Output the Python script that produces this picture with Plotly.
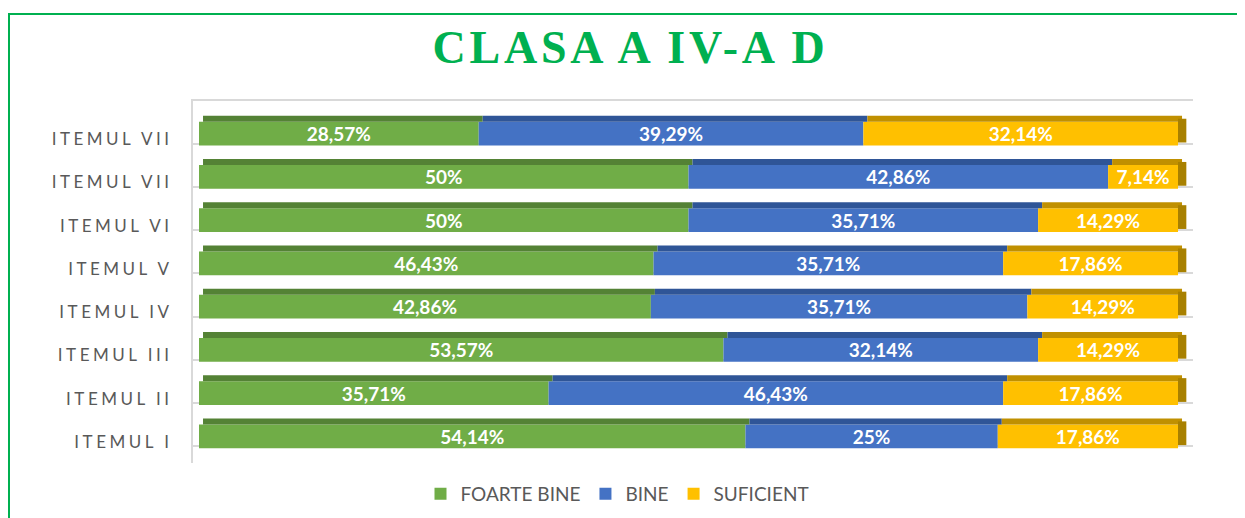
import plotly.graph_objects as go

# ---- data (bottom to top, as drawn) ----
categories = ["ITEMUL I", "ITEMUL II", "ITEMUL III", "ITEMUL IV",
              "ITEMUL V", "ITEMUL VI", "ITEMUL VII", "ITEMUL VII"]
series_names = ["FOARTE BINE", "BINE", "SUFICIENT"]
foarte_bine = [54.14, 35.71, 53.57, 42.86, 46.43, 50, 50, 28.57]
bine = [25, 46.43, 32.14, 35.71, 35.71, 35.71, 42.86, 39.29]
suficient = [17.86, 17.86, 14.29, 14.29, 17.86, 14.29, 7.14, 32.14]

series_values = [foarte_bine, bine, suficient]
front_colors = ["#70AD47", "#4472C4", "#FFC000"]
top_colors = ["#548235", "#2F5597", "#C09000"]
side_color = "#A88000"

ypos = list(range(len(categories)))
totals = [sum(v[i] for v in series_values) for i in ypos]
pcts = [[v[i] / totals[i] * 100 for i in ypos] for v in series_values]
bases = []
run = [0.0] * len(ypos)
for p in pcts:
    bases.append(run[:])
    run = [run[i] + p[i] for i in ypos]


def fmt(v):
    s = f"{v:.2f}".rstrip("0").rstrip(".")
    return s.replace(".", ",") + "%"


BAR_W = 0.55
TOP_W = 0.137
SHIFT = 0.41   # half of depth shift in x units
DEPTH = 0.85
LABEL_DROP = 0.13

W, H = 1245, 518
OFF = 8  # page body margin
PL, PR, PT, PB = 193 - OFF, 1193 - OFF, 101 - OFF, 467 - OFF

fig = go.Figure()

# front faces
for name, p, b, vals, col in zip(series_names, pcts, bases, series_values, front_colors):
    fig.add_trace(go.Bar(
        y=ypos, x=p, base=b, orientation="h", name=name,
        marker=dict(color=col, line=dict(width=0)),
        width=BAR_W, offset=-BAR_W / 2,
        text=[fmt(v) for v in vals], textposition="inside",
        insidetextanchor="middle", textangle=0, constraintext="none",
        textfont=dict(family="Lato", size=19, color="white", weight="bold"),
        hoverinfo="skip",
    ))

# top faces (3D effect)
for p, b, col in zip(pcts, bases, top_colors):
    fig.add_trace(go.Bar(
        y=ypos, x=p, base=[bb + SHIFT for bb in b], orientation="h",
        marker=dict(color=col, line=dict(width=0)),
        width=TOP_W, offset=BAR_W / 2, showlegend=False, hoverinfo="skip",
    ))

# right side face
fig.add_trace(go.Bar(
    y=ypos, x=[DEPTH] * len(ypos), base=run, orientation="h",
    marker=dict(color=side_color, line=dict(width=0)),
    width=BAR_W, offset=-BAR_W / 2 + 0.07, showlegend=False, hoverinfo="skip",
))

ticktext = [f'<span style="letter-spacing:3.5px">{c}</span>' for c in categories]

pw = PR - PL
ph = PB - PT

fig.update_layout(
    width=W, height=H,
    barmode="overlay",
    paper_bgcolor="white", plot_bgcolor="white",
    margin=dict(l=PL, r=W - PR, t=PT, b=H - PB),
    title=dict(
        text='<span style="letter-spacing:3.8px">CLASA A IV-A D</span>',
        font=dict(family="Liberation Serif", size=46, color="#00B050", weight="bold"),
        x=0.5, xref="container", xanchor="center",
        y=1 - (47 - OFF) / H, yref="container", yanchor="middle",
    ),
    xaxis=dict(
        range=[-0.613, 101.53], showgrid=False, zeroline=False,
        showticklabels=False, ticks="", side="top",
        showline=True, linecolor="#D9D9D9", linewidth=2,
    ),
    yaxis=dict(
        range=[-0.618, 7.755], tickmode="array",
        tickvals=[y - LABEL_DROP for y in ypos], ticktext=ticktext,
        showgrid=False, zeroline=False, ticks="", ticklabelstandoff=15,
        tickfont=dict(family="Lato", size=17, color="#595959"),
        showline=True, linecolor="#D9D9D9", linewidth=2, automargin=False,
        minor=dict(tickmode="array", tickvals=[y - 0.23 for y in ypos],
                   showgrid=True, gridcolor="#D9D9D9", gridwidth=2, ticks=""),
    ),
    legend=dict(
        orientation="h", traceorder="normal",
        x=0.5 - 13 / W, xref="container", xanchor="center",
        y=1 - (494 - OFF) / H, yref="container", yanchor="middle",
        font=dict(family="Lato", size=19, color="#595959"),
    ),
    shapes=[dict(
        type="rect", xref="paper", yref="paper",
        x0=(1 - PL) / pw, x1=(1232 - PL) / pw,
        y0=-0.3, y1=(PB - 5) / ph,
        line=dict(color="#00B050", width=2), fillcolor="rgba(0,0,0,0)",
        layer="below",
    )],
)

fig.write_html("out.html")
